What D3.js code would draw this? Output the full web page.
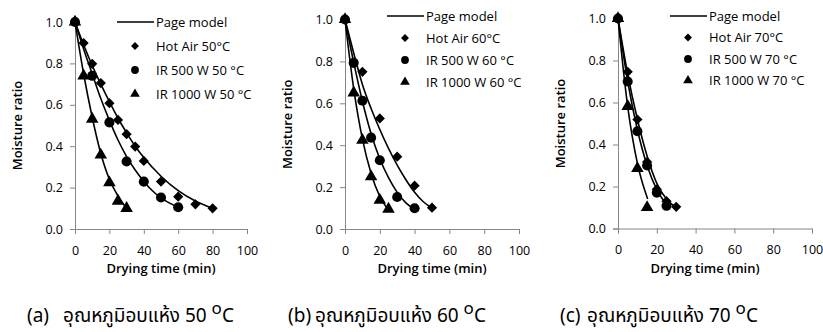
<!DOCTYPE html>
<html>
<head>
<meta charset="utf-8">
<script src="https://cdn.jsdelivr.net/npm/d3@7"></script>
<style>
  body { margin: 0; background: #fff; }
  svg { display: block; }
  text { font-family: "Open Sans", "Noto Sans", "DejaVu Sans", sans-serif; fill: #000; }
  .cap { font-family: "Noto Sans Thai", "Noto Sans", "DejaVu Sans", sans-serif; }
</style>
</head>
<body>
<div id="chart"></div>
<script>
// measured points (time in min, moisture ratio)
const hotAir50 = [[0,1],[5,0.898],[10,0.798],[15,0.705],[20,0.608],[25,0.527],[30,0.458],[35,0.398],[40,0.329],[50,0.229],[60,0.156],[70,0.119],[80,0.10]];
const ir500_50 = [[0,1],[10,0.74],[20,0.515],[30,0.326],[40,0.229],[50,0.152],[60,0.105]];
const ir1000_50 = [[0,1],[5,0.74],[10,0.531],[15,0.358],[20,0.224],[25,0.135],[30,0.10]];

const hotAir60 = [[0,1],[10,0.75],[20,0.528],[30,0.345],[40,0.207],[50,0.102]];
const ir500_60 = [[0,1],[5,0.793],[10,0.612],[15,0.436],[20,0.328],[30,0.153],[40,0.099]];
const ir1000_60 = [[0,1],[5,0.65],[10,0.424],[15,0.25],[20,0.138],[25,0.095]];

const hotAir70 = [[0,1],[5,0.746],[10,0.519],[15,0.317],[20,0.187],[25,0.13],[30,0.103]];
const ir500_70 = [[0,1],[5,0.70],[10,0.463],[15,0.30],[20,0.171],[25,0.108]];
const ir1000_70 = [[0,1],[5,0.582],[10,0.286],[15,0.10]];

// Page model curves
const model50 = [
  [[0,1],[5,0.89],[10,0.79],[15,0.70],[20,0.615],[25,0.535],[30,0.465],[35,0.40],[40,0.345],[50,0.255],[60,0.185],[70,0.135],[80,0.10]],
  [[0,1],[5,0.87],[10,0.75],[15,0.63],[20,0.525],[25,0.43],[30,0.35],[35,0.285],[40,0.23],[45,0.185],[50,0.15],[55,0.125],[60,0.105]],
  [[0,1],[5,0.75],[10,0.54],[15,0.365],[20,0.24],[25,0.16],[29,0.11]]
];
const model60 = [
  [[0,1],[5,0.84],[10,0.69],[15,0.575],[20,0.475],[25,0.385],[30,0.305],[35,0.235],[40,0.175],[45,0.13],[50,0.10]],
  [[0,1],[5,0.795],[10,0.61],[15,0.455],[20,0.335],[25,0.245],[30,0.175],[35,0.125],[40,0.095]],
  [[0,1],[5,0.67],[10,0.43],[15,0.265],[20,0.155],[25,0.09]]
];
const model70 = [
  [[0,1],[5,0.735],[10,0.52],[15,0.345],[20,0.215],[25,0.14],[30,0.10]],
  [[0,1],[5,0.70],[10,0.47],[15,0.30],[20,0.185],[25,0.115]],
  [[0,1],[5,0.58],[10,0.31],[15.3,0.14]]
];

const xTicks = [0, 20, 40, 60, 80, 100];
const yTicks = [0, 0.2, 0.4, 0.6, 0.8, 1.0];
const temps = ["50", "60", "70"];
const captionLetters = ["(a)", "(b)", "(c)"];
const thaiCaption = "อุณหภูมิอบแห้ง";

const panels = [
  { temp: "50", pts: [hotAir50, ir500_50, ir1000_50], model: model50,
    x0: 75, x1: 247, yTop: 22, yBot: 229, legX: 117, legY: 22, legDy: 24, capX: 27, capGap: 36,
    labels: ["Hot Air 50°C", "IR 500 W 50 °C", "IR 1000 W 50 °C"] },
  { temp: "60", pts: [hotAir60, ir500_60, ir1000_60], model: model60,
    x0: 345, x1: 519, yTop: 19.5, yBot: 229, legX: 387, legY: 16, legDy: 22, capX: 288, capGap: 27,
    labels: ["Hot Air 60°C", "IR 500 W 60 °C", "IR 1000 W 60 °C"] },
  { temp: "70", pts: [hotAir70, ir500_70, ir1000_70], model: model70,
    x0: 618, x1: 812, yTop: 18.5, yBot: 228.5, legX: 670, legY: 16, legDy: 21.5, capX: 560, capGap: 27,
    labels: ["Hot Air 70°C", "IR 500 W 70 °C", "IR 1000 W 70 °C"] }
];

const width = 823, height = 332;
const axisColor = "#868686";

const svg = d3.select("#chart").append("svg")
  .attr("width", width)
  .attr("height", height);

const drawSymbol = (g, i, x, y, small) => {
  const k = small ? 0.6 : 1;
  const types = [d3.symbolSquare, d3.symbolCircle, d3.symbolTriangle];
  const sizes = [52, 80, 68];
  const shape = d3.symbol().type(types[i]).size(sizes[i] * k);
  g.append("path")
    .attr("d", shape())
    .attr("transform", i === 0 ? `translate(${x},${y}) rotate(45)` : `translate(${x},${y})`)
    .attr("fill", "#000");
};

panels.forEach((p, pi) => {
  const x = d3.scaleLinear().domain([0, 100]).range([p.x0, p.x1]);
  const y = d3.scaleLinear().domain([0, 1]).range([p.yBot, p.yTop]);
  const g = svg.append("g");

  // axes
  const xAxis = g.append("g")
    .attr("transform", `translate(0,${p.yBot})`)
    .call(d3.axisBottom(x).tickValues(xTicks).tickSize(5).tickPadding(12).tickFormat(d3.format("d")));
  const yAxis = g.append("g")
    .attr("transform", `translate(${p.x0},0)`)
    .call(d3.axisLeft(y).tickValues(yTicks).tickSize(5).tickPadding(7).tickFormat(d3.format(".1f")));
  [xAxis, yAxis].forEach(a => {
    a.select(".domain").attr("stroke", axisColor);
    a.selectAll(".tick line").attr("stroke", axisColor);
    a.selectAll(".tick text").style("font-size", "12.5px").attr("fill", "#000");
  });

  g.append("text")
    .attr("x", (p.x0 + p.x1) / 2 - (pi === 2 ? 10 : 0))
    .attr("y", 273)
    .attr("text-anchor", "middle")
    .style("font-size", "13px")
    .style("font-weight", "600")
    .text("Drying time (min)");

  g.append("text")
    .attr("transform", `translate(${p.x0 - 53},${(p.yTop + p.yBot) / 2}) rotate(-90)`)
    .attr("text-anchor", "middle")
    .style("font-size", "13px")
    .style("font-weight", "600")
    .text("Moisture ratio");

  // model lines
  const line = d3.line()
    .x(d => x(d[0]))
    .y(d => y(d[1]))
    .curve(d3.curveMonotoneX);
  p.model.forEach(m => {
    g.append("path")
      .datum(m)
      .attr("d", line)
      .attr("fill", "none")
      .attr("stroke", "#000")
      .attr("stroke-width", 1.6);
  });

  // points
  p.pts.forEach((series, si) => {
    series.forEach(d => drawSymbol(g, si, x(d[0]), y(d[1]), false));
  });

  // legend
  const lg = g.append("g");
  lg.append("line")
    .attr("x1", p.legX).attr("x2", p.legX + 37)
    .attr("y1", p.legY).attr("y2", p.legY)
    .attr("stroke", "#000").attr("stroke-width", 1.6);
  lg.append("text")
    .attr("x", p.legX + 39).attr("y", p.legY)
    .attr("dy", "0.35em")
    .style("font-size", "13px")
    .text("Page model");
  p.labels.forEach((lab, li) => {
    const ly = p.legY + p.legDy * (li + 1);
    drawSymbol(lg, li, p.legX + 18, ly, true);
    lg.append("text")
      .attr("x", p.legX + 39).attr("y", ly)
      .attr("dy", "0.35em")
      .style("font-size", "13px")
      .text(lab);
  });

  // caption
  svg.append("text")
    .attr("class", "cap")
    .attr("x", p.capX)
    .attr("y", 322)
    .style("font-size", "19px")
    .text(captionLetters[pi]);
  const cap = svg.append("text")
    .attr("class", "cap")
    .attr("x", p.capX + p.capGap)
    .attr("y", 322)
    .style("font-size", "19px");
  cap.append("tspan").text(thaiCaption + " " + temps[pi] + " ");
  cap.append("tspan").attr("dy", -8).style("font-size", "17px").text("o");
  cap.append("tspan").attr("dy", 8).text("C");
});
</script>
</body>
</html>
